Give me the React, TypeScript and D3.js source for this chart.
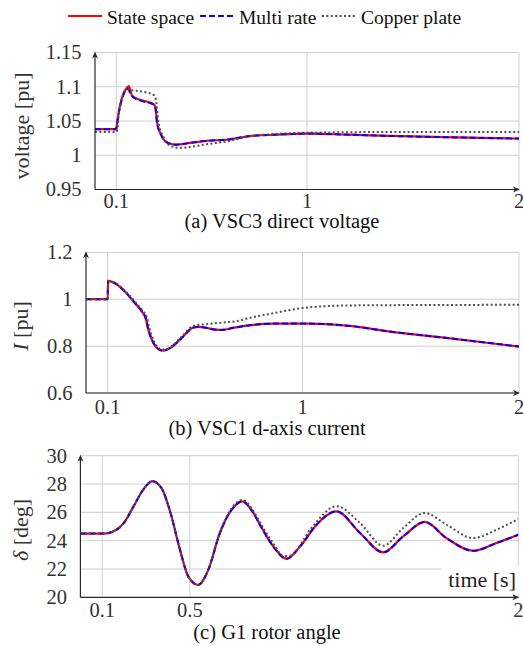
import React, { useEffect, useRef } from 'react'
import * as d3 from 'd3'

// legend + ticks
const legendLabels = ['State space', 'Multi rate', 'Copper plate']
const xTicksAB = [0.1, 1, 2]
const xTicksC = [0.1, 0.5, 2]
const yTicksA = [0.95, 1, 1.05, 1.1, 1.15]
const yTicksB = [0.6, 0.8, 1, 1.2]
const yTicksC = [20, 22, 24, 26, 28, 30]

// (a) VSC3 direct voltage  [time s, pu]
const stateA: [number, number][] = [
  [0, 1.038], [0.1, 1.038], [0.101, 1.04], [0.115, 1.068], [0.134, 1.09], [0.15, 1.098],
  [0.16, 1.101], [0.167, 1.094], [0.175, 1.087], [0.212, 1.081], [0.275, 1.075], [0.285, 1.07],
  [0.293, 1.047], [0.313, 1.029], [0.344, 1.018], [0.385, 1.0155], [0.447, 1.018], [0.525, 1.021],
  [0.629, 1.023], [0.73, 1.028], [0.85, 1.03], [1.0, 1.0317], [1.2, 1.030], [1.44, 1.0278],
  [1.7, 1.026], [2.0, 1.0244],
]
const multiA: [number, number][] = [
  [0, 1.038], [0.1, 1.038], [0.101, 1.04], [0.115, 1.066], [0.134, 1.088], [0.155, 1.097],
  [0.167, 1.09], [0.18, 1.085], [0.212, 1.08], [0.275, 1.074], [0.285, 1.069],
  [0.293, 1.047], [0.313, 1.029], [0.344, 1.018], [0.385, 1.0155], [0.447, 1.018], [0.525, 1.021],
  [0.629, 1.023], [0.73, 1.028], [0.85, 1.03], [1.0, 1.0317], [1.2, 1.030], [1.44, 1.0278],
  [1.7, 1.026], [2.0, 1.0244],
]
const copperA: [number, number][] = [
  [0, 1.034], [0.1, 1.034], [0.104, 1.036], [0.115, 1.067], [0.135, 1.09], [0.152, 1.096],
  [0.173, 1.095], [0.228, 1.0926], [0.278, 1.0877], [0.29, 1.076], [0.298, 1.051], [0.322, 1.027],
  [0.36, 1.013], [0.4, 1.0107], [0.447, 1.012], [0.525, 1.016], [0.629, 1.0205], [0.73, 1.0278],
  [0.85, 1.031], [1.0, 1.033], [1.5, 1.034], [2.0, 1.034],
]

// (b) VSC1 d-axis current  [time s, pu]
const stateB: [number, number][] = [
  [0, 1.0], [0.1, 1.0], [0.102, 1.079], [0.11, 1.077], [0.134, 1.068], [0.18, 1.032], [0.226, 0.983],
  [0.26, 0.945], [0.275, 0.92], [0.288, 0.869], [0.311, 0.813], [0.33, 0.79], [0.349, 0.781],
  [0.365, 0.782], [0.388, 0.791], [0.441, 0.834], [0.495, 0.879], [0.52, 0.882], [0.549, 0.879],
  [0.6, 0.870], [0.626, 0.869], [0.68, 0.878], [0.734, 0.886], [0.864, 0.896], [1.018, 0.896],
  [1.218, 0.886], [1.403, 0.862], [1.634, 0.838], [2.0, 0.798],
]
const multiB: [number, number][] = [
  [0, 1.0], [0.1, 1.0], [0.102, 1.078], [0.11, 1.077], [0.134, 1.068], [0.18, 1.033], [0.226, 0.984],
  [0.26, 0.946], [0.275, 0.922], [0.288, 0.872], [0.311, 0.815], [0.33, 0.791], [0.349, 0.782],
  [0.365, 0.783], [0.388, 0.792], [0.441, 0.834], [0.495, 0.879], [0.52, 0.882], [0.549, 0.879],
  [0.6, 0.870], [0.626, 0.869], [0.68, 0.878], [0.734, 0.886], [0.864, 0.896], [1.018, 0.896],
  [1.218, 0.886], [1.403, 0.862], [1.634, 0.838], [2.0, 0.798],
]
const copperB: [number, number][] = [
  [0, 1.0], [0.1, 1.0], [0.103, 1.078], [0.11, 1.077], [0.134, 1.07], [0.18, 1.036], [0.226, 0.99],
  [0.262, 0.95], [0.28, 0.925], [0.292, 0.88], [0.313, 0.822], [0.333, 0.793], [0.352, 0.785],
  [0.368, 0.786], [0.39, 0.795], [0.441, 0.84], [0.495, 0.886], [0.549, 0.893], [0.626, 0.90],
  [0.711, 0.909], [0.734, 0.915], [0.864, 0.94], [1.0, 0.962], [1.2, 0.973], [1.5, 0.975],
  [2.0, 0.976],
]

// (c) G1 rotor angle  [time s, deg]
const stateC: [number, number][] = [
  [0, 24.5], [0.105, 24.5], [0.15, 24.65], [0.196, 25.2], [0.242, 26.4], [0.287, 27.6], [0.328, 28.2],
  [0.371, 27.7], [0.409, 26.1], [0.455, 23.35], [0.493, 21.46], [0.538, 20.87], [0.584, 21.94],
  [0.637, 24.54], [0.691, 26.19], [0.739, 26.78], [0.79, 25.96], [0.82, 25.13], [0.881, 23.59],
  [0.942, 22.72], [1.003, 23.59], [1.079, 25.13], [1.17, 26.07], [1.277, 24.54], [1.383, 23.17],
  [1.474, 24.3], [1.573, 25.32], [1.672, 24.18], [1.794, 23.28], [1.9, 23.83], [2.0, 24.42],
]
const multiC: [number, number][] = [
  [0, 24.5], [0.105, 24.5], [0.15, 24.65], [0.196, 25.2], [0.242, 26.4], [0.287, 27.6], [0.328, 28.2],
  [0.371, 27.7], [0.409, 26.1], [0.455, 23.35], [0.493, 21.46], [0.538, 20.88], [0.584, 21.94],
  [0.637, 24.54], [0.691, 26.19], [0.739, 26.78], [0.79, 25.96], [0.82, 25.13], [0.881, 23.59],
  [0.942, 22.72], [1.003, 23.59], [1.079, 25.13], [1.17, 26.07], [1.277, 24.54], [1.383, 23.17],
  [1.474, 24.3], [1.573, 25.32], [1.672, 24.18], [1.794, 23.28], [1.9, 23.83], [2.0, 24.42],
]
const copperC: [number, number][] = [
  [0, 24.5], [0.105, 24.5], [0.15, 24.65], [0.196, 25.2], [0.242, 26.4], [0.287, 27.6], [0.328, 28.2],
  [0.371, 27.7], [0.409, 26.1], [0.455, 23.35], [0.493, 21.46], [0.538, 20.87], [0.584, 21.94],
  [0.637, 24.6], [0.691, 26.3], [0.739, 26.88], [0.79, 26.1], [0.82, 25.3], [0.881, 23.8],
  [0.93, 22.9], [0.96, 22.95], [1.05, 24.8], [1.17, 26.43], [1.277, 25.25], [1.383, 23.64],
  [1.474, 24.89], [1.573, 25.96], [1.672, 25.13], [1.794, 24.18], [1.9, 24.77], [2.0, 25.53],
]

const FONT = '"Liberation Serif"'
const colors = ['#ff0000', '#0000ff', '#505050']
const dashes = [null, '6 3', '2 2.4']

export default function App() {
  const ref = useRef<SVGSVGElement>(null)

  useEffect(() => {
    const svg = d3.select(ref.current)
    svg.selectAll('*').remove()

    // legend
    const lg = svg.append('g')
    const legendX = [68, 200, 322]
    legendLabels.forEach((name, i) => {
      lg.append('line')
        .attr('x1', legendX[i]).attr('x2', legendX[i] + 34)
        .attr('y1', 16).attr('y2', 16)
        .attr('stroke', colors[i]).attr('stroke-width', 2.2)
        .attr('stroke-dasharray', dashes[i])
      lg.append('text')
        .attr('x', legendX[i] + 39).attr('y', 24)
        .attr('font-family', FONT).attr('font-size', 19.5).attr('fill', '#111')
        .text(name)
    })

    const panels = [
      { id: 'a', left: 95, right: 519, top: 52.5, bottom: 189.5, yDom: [0.95, 1.15], yTicks: yTicksA,
        xTicks: xTicksAB, data: [stateA, multiA, copperA], tickBase: 208, labX: 29, labY: 126,
        label: [['voltage [pu]', false]], cap: '(a) VSC3 direct voltage', capX: 282, capY: 228 },
      { id: 'b', left: 86, right: 519, top: 252.3, bottom: 393, yDom: [0.6, 1.2], yTicks: yTicksB,
        xTicks: xTicksAB, data: [stateB, multiB, copperB], tickBase: 414, labX: 28, labY: 326,
        label: [['I', true], [' [pu]', false]], cap: '(b) VSC1 d-axis current', capX: 267, capY: 435 },
      { id: 'c', left: 80.4, right: 518.3, top: 455.7, bottom: 597.3, yDom: [20, 30], yTicks: yTicksC,
        xTicks: xTicksC, data: [stateC, multiC, copperC], tickBase: 617, labX: 28, labY: 530,
        label: [['δ', true], [' [deg]', false]], cap: '(c) G1 rotor angle', capX: 267, capY: 639 },
    ]

    panels.forEach(p => {
      const x = d3.scaleLinear().domain([0, 2]).range([p.left, p.right])
      const y = d3.scaleLinear().domain(p.yDom).range([p.bottom, p.top])
      const g = svg.append('g')

      // grid
      g.selectAll('.hg').data(p.yTicks).enter().append('line')
        .attr('x1', p.left).attr('x2', p.right)
        .attr('y1', d => y(d)).attr('y2', d => y(d))
        .attr('stroke', '#cfcfcf').attr('stroke-width', 1)
      g.selectAll('.vg').data(p.xTicks).enter().append('line')
        .attr('x1', d => x(d)).attr('x2', d => x(d))
        .attr('y1', p.top).attr('y2', p.bottom)
        .attr('stroke', '#cfcfcf').attr('stroke-width', 1)

      // time label box (panel c)
      if (p.id === 'c') {
        g.append('rect').attr('x', 441).attr('y', 566).attr('width', 79).attr('height', 28).attr('fill', '#fff')
        g.append('text').attr('x', 516).attr('y', 587).attr('text-anchor', 'end')
          .attr('font-family', FONT).attr('font-size', 22).attr('fill', '#222')
          .text('time [s]')
      }

      // series
      g.append('clipPath').attr('id', 'clip-' + p.id).append('rect')
        .attr('x', p.left).attr('y', p.top - 4).attr('width', p.right - p.left).attr('height', p.bottom - p.top + 4)
      const line = d3.line<[number, number]>()
        .x(d => x(d[0])).y(d => y(d[1]))
        .curve(d3.curveMonotoneX)
      p.data.forEach((s, i) => {
        g.append('path').datum(s)
          .attr('clip-path', `url(#clip-${p.id})`)
          .attr('d', line)
          .attr('fill', 'none')
          .attr('stroke', colors[i])
          .attr('stroke-width', i === 0 ? 2.2 : 2)
          .attr('stroke-dasharray', dashes[i])
      })

      // axes with arrows
      const ax = '#2a2a2a'
      g.append('line').attr('x1', p.left).attr('x2', p.right - 2)
        .attr('y1', p.bottom).attr('y2', p.bottom).attr('stroke', ax).attr('stroke-width', 1.2)
      g.append('line').attr('x1', p.left).attr('x2', p.left)
        .attr('y1', p.bottom).attr('y2', p.top + 2).attr('stroke', ax).attr('stroke-width', 1.2)
      g.append('path')
        .attr('d', `M${p.right + 1},${p.bottom} L${p.right - 6},${p.bottom - 3} L${p.right - 4},${p.bottom} L${p.right - 6},${p.bottom + 3} Z`)
        .attr('fill', ax)
      g.append('path')
        .attr('d', `M${p.left},${p.top - 1} L${p.left - 3},${p.top + 6} L${p.left},${p.top + 4} L${p.left + 3},${p.top + 6} Z`)
        .attr('fill', ax)

      // tick labels
      g.selectAll('.yt').data(p.yTicks).enter().append('text')
        .attr('x', p.left - 13.5).attr('y', d => y(d)).attr('dy', '0.34em')
        .attr('text-anchor', 'end')
        .attr('font-family', FONT).attr('font-size', 20.5).attr('fill', '#333')
        .text(d => String(d))
      g.selectAll('.xt').data(p.xTicks).enter().append('text')
        .attr('x', d => x(d)).attr('y', p.tickBase)
        .attr('text-anchor', 'middle')
        .attr('font-family', FONT).attr('font-size', 20.5).attr('fill', '#333')
        .text(d => String(d))

      // y label
      const yl = g.append('text')
        .attr('transform', `translate(${p.labX},${p.labY}) rotate(-90)`)
        .attr('text-anchor', 'middle')
        .attr('font-family', FONT).attr('font-size', 22).attr('fill', '#333')
      p.label.forEach(([t, it]) => {
        yl.append('tspan').attr('font-style', it ? 'italic' : 'normal').text(t as string)
      })

      // caption
      g.append('text').attr('x', p.capX).attr('y', p.capY).attr('text-anchor', 'middle')
        .attr('font-family', FONT).attr('font-size', 20.5).attr('fill', '#111')
        .text(p.cap)
    })
  }, [])

  return (
    <svg ref={ref} width={523} height={646}
      style={{ position: 'absolute', left: 0, top: 0, background: '#fff' }} />
  )
}
